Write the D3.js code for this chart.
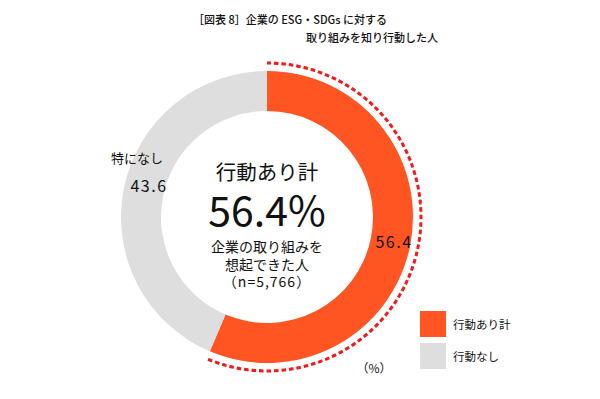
<!DOCTYPE html>
<html>
<head>
<meta charset="utf-8">
<script src="https://cdn.jsdelivr.net/npm/d3@7"></script>
<style>
  body { margin: 0; background: #fff; }
  text { font-family: "Noto Sans CJK JP", "Noto Sans", sans-serif; fill: #111; }
</style>
</head>
<body>
<div id="chart"></div>
<script>
const categories = ["行動あり計", "行動なし"];
const values = [56.4, 43.6];
const sliceLabels = ["56.4", "43.6"];
const colors = ["#ff5522", "#dedede"];
const titleLines = ["［図表 8］企業の ESG・SDGs に対する", "取り組みを知り行動した人"];
const centerLines = ["企業の取り組みを", "想起できた人", "（n=5,766）"];

const width = 600, height = 399;
const cx = 267, cy = 217;
const rOuter = 146, rInner = 106, rDots = 154;

const svg = d3.select("#chart").append("svg")
    .attr("width", width)
    .attr("height", height);

// title
svg.append("text").attr("x", 193).attr("y", 24).attr("font-size", 11)
    .attr("font-weight", 500).text(titleLines[0]);
svg.append("text").attr("x", 438).attr("y", 42).attr("font-size", 11)
    .attr("font-weight", 500).attr("text-anchor", "end").text(titleLines[1]);

const pie = d3.pie().sort(null).value(d => d);
const arcs = pie(values);
const arc = d3.arc().innerRadius(rInner).outerRadius(rOuter);

const g = svg.append("g").attr("transform", "translate(" + cx + "," + cy + ")");

g.selectAll("path.slice")
    .data(arcs)
    .enter().append("path")
    .attr("class", "slice")
    .attr("d", arc)
    .attr("fill", (d, i) => colors[i]);

// dotted arc along the first slice
const dotArc = d3.arc().innerRadius(rDots).outerRadius(rDots);
g.append("path")
    .attr("d", dotArc({startAngle: arcs[0].startAngle, endAngle: arcs[0].endAngle}))
    .attr("fill", "none")
    .attr("stroke", "#ee1c1c")
    .attr("stroke-width", 3)
    .attr("stroke-dasharray", "4,3.5");

// value labels
svg.append("text").attr("x", 394).attr("y", 248)
    .attr("text-anchor", "middle").attr("font-size", 16)
    .attr("letter-spacing", 1.5).text(sliceLabels[0]);
svg.append("text").attr("x", 149).attr("y", 192)
    .attr("text-anchor", "middle").attr("font-size", 16)
    .attr("letter-spacing", 1.5).text(sliceLabels[1]);
svg.append("text").attr("x", 137).attr("y", 163)
    .attr("text-anchor", "middle").attr("font-size", 13).text("特になし");

// center text
svg.append("text").attr("x", cx).attr("y", 180)
    .attr("text-anchor", "middle").attr("font-size", 20.5).text(categories[0]);
svg.append("text").attr("x", cx).attr("y", 226)
    .attr("text-anchor", "middle").attr("font-size", 41).text(values[0] + "%");
centerLines.forEach((t, i) => {
    svg.append("text").attr("x", cx).attr("y", 252 + i * 17.5)
        .attr("text-anchor", "middle").attr("font-size", 14)
        .attr("letter-spacing", i == 2 ? 1 : 0).text(t);
});

// legend
const legend = svg.append("g").attr("transform", "translate(420,311)");
categories.forEach((c, i) => {
    legend.append("rect")
        .attr("x", 0).attr("y", i * 32)
        .attr("width", 26).attr("height", 26)
        .attr("fill", colors[i]);
    legend.append("text")
        .attr("x", 33).attr("y", i * 32 + 18)
        .attr("font-size", 11.5).text(c);
});

svg.append("text").attr("x", 374).attr("y", 373)
    .attr("text-anchor", "middle").attr("font-size", 12).text("（%）");
</script>
</body>
</html>
